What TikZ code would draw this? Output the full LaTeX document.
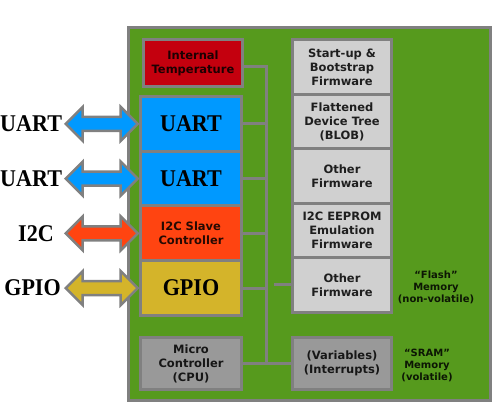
\documentclass[tikz,border=0pt]{standalone}
\usepackage{fontspec}
\setmainfont{Liberation Serif}
\setsansfont{DejaVu Sans}
\newfontfamily\portfont{Liberation Serif}[FakeStretch=0.92]
\usetikzlibrary{positioning}
\usetikzlibrary{shapes.arrows}
\definecolor{boardgreen}{RGB}{86,154,29}
\definecolor{linegray}{RGB}{128,128,128}
\definecolor{tempred}{RGB}{196,0,14}
\definecolor{uartblue}{RGB}{0,153,255}
\definecolor{i2corange}{RGB}{255,68,17}
\definecolor{gpiogold}{RGB}{212,180,42}
\definecolor{fwgray}{RGB}{208,208,208}
\definecolor{cpugray}{RGB}{153,153,153}
\tikzstyle{blocknode} = [draw=linegray, line width=3pt, rectangle, inner sep=0pt, outer sep=0pt, align=center, font=\sffamily\bfseries\fontsize{11.5}{14}\selectfont, text opacity=0.85]
\tikzstyle{leftnode} = [blocknode, minimum width=101pt, minimum height=54.75pt]
\tikzstyle{portnode} = [leftnode, font=\portfont\bfseries\fontsize{24}{26}\selectfont, text opacity=1]
\tikzstyle{fwnode} = [blocknode, fill=fwgray, minimum width=99pt, minimum height=54.5pt]
\tikzstyle{busarrow} = [draw=linegray, line width=2.5pt, double arrow, double arrow head extend=10pt, minimum height=72pt, inner xsep=0pt, inner ysep=5.75pt]
\tikzstyle{iolabel} = [font=\portfont\bfseries\fontsize{24}{26}\selectfont, inner sep=0pt]
\tikzstyle{memnote} = [align=center, font=\sffamily\bfseries\fontsize{10}{12}\selectfont, text opacity=0.85]
\tikzstyle{bus} = [draw=linegray, line width=3pt]

\begin{document}
\begin{tikzpicture}[x=1pt, y=1pt]
  \useasboundingbox (0,0) rectangle (503,412);
  \node[draw=linegray, line width=3pt, fill=boardgreen, minimum width=362.5pt, minimum height=373pt] (board) at (309.25,198) {};

  % left column
  \node[blocknode, fill=tempred, minimum width=99pt, minimum height=47pt] (temp) at (193,349) {Internal\\Temperature};
  \node[portnode, fill=uartblue] (uartA) at (191,288.125) {UART};
  \node[portnode, fill=uartblue, below=0pt of uartA] (uartB) {UART};
  \node[leftnode, fill=i2corange, below=0pt of uartB] (i2c) {I2C Slave\\Controller};
  \node[portnode, fill=gpiogold, below=0pt of i2c] (gpio) {GPIO};
  \node[leftnode, fill=cpugray, minimum height=52pt] (cpu) at (191,48.5) {Micro\\Controller\\(CPU)};

  % right column
  \node[fwnode] (fwA) at (342,345) {Start-up \&\\Bootstrap\\Firmware};
  \node[fwnode, below=0pt of fwA] (dtb) {Flattened\\Device Tree\\(BLOB)};
  \node[fwnode, below=0pt of dtb] (fwB) {Other\\Firmware};
  \node[fwnode, below=0pt of fwB] (eeprom) {I2C EEPROM\\Emulation\\Firmware};
  \node[fwnode, below=0pt of eeprom] (fwC) {Other\\Firmware};
  \node[blocknode, fill=cpugray, minimum width=99pt, minimum height=52pt] (vars) at (342,48.5) {(Variables)\\(Interrupts)};

  \node[memnote] (flash) at (436,125) {``Flash''\\Memory\\(non-volatile)};
  \node[memnote] (sram) at (427,46.5) {``SRAM''\\Memory\\(volatile)};

  % ports
  \node[busarrow, fill=uartblue, left=1pt of uartA] (arrA) {};
  \node[busarrow, fill=uartblue, left=1pt of uartB] (arrB) {};
  \node[busarrow, fill=i2corange, left=1pt of i2c] (arrC) {};
  \node[busarrow, fill=gpiogold, left=1pt of gpio] (arrD) {};
  \node[iolabel, left=1.75pt of arrA] (lblA) {UART};
  \node[iolabel, left=1.75pt of arrB] (lblB) {UART};
  \node[iolabel, left=10pt of arrC] (lblC) {I2C};
  \node[iolabel, left=3pt of arrD] (lblD) {GPIO};

  % bus
  \coordinate (busx) at (266,0);
  \coordinate (tempout) at ([yshift=-4pt]temp.east);
  \draw[bus] (tempout) -- (tempout -| busx) -- (cpu.east -| busx);
  \foreach \n in {uartA,uartB,i2c,gpio}
    \draw[bus] (\n.east) -- (\n.east -| busx);
  \draw[bus] (cpu.east) -- (vars.west);
  \coordinate (fwCin) at ([xshift=-19pt]fwC.west);
  \draw[bus] (fwC.west) -- (fwCin);
\end{tikzpicture}
\end{document}
